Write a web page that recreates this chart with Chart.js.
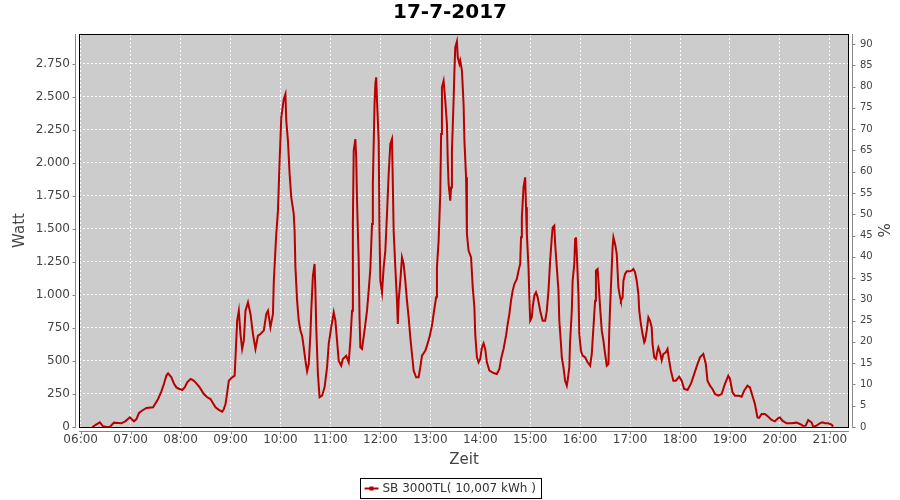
<!DOCTYPE html>
<html>
<head>
<meta charset="utf-8">
<title>17-7-2017</title>
<script src="https://cdn.jsdelivr.net/npm/chart.js@4.4.1/dist/chart.umd.min.js"></script>
<style>
  html, body { margin: 0; padding: 0; background: #fff; }
  #wrap { width: 900px; height: 500px; }
</style>
</head>
<body>
<div id="wrap"><canvas id="powerChart" width="900" height="500"></canvas></div>
<script>
// values
const chartTitle = '17-7-2017';
const seriesLabel = 'SB 3000TL( 10,007 kWh )';

const times = [
  '06:14','06:19','06:23','06:27','06:31','06:35','06:40','06:45','06:49','06:54',
  '06:59','07:04','07:07','07:10','07:14','07:19','07:27','07:33','07:37','07:40',
  '07:43','07:45','07:49','07:52','07:55','07:58','08:02','08:05','08:08','08:12',
  '08:15','08:18','08:23','08:28','08:32','08:36','08:39','08:42','08:46','08:50',
  '08:52','08:54','08:56','08:58','09:02','09:05','09:06','09:08','09:10','09:12',
  '09:14','09:16','09:18','09:21','09:24','09:27','09:30','09:33','09:36','09:40',
  '09:43','09:45','09:48','09:51','09:52','09:54','09:55','09:57','09:59','10:01',
  '10:04','10:06','10:07','10:09','10:11','10:13','10:16','10:17','10:18','10:20',
  '10:22','10:24','10:26','10:28','10:30','10:32','10:34','10:36','10:37','10:39',
  '10:41','10:42','10:43','10:45','10:47','10:50','10:53','10:56','10:58','11:01',
  '11:04','11:06','11:08','11:10','11:13','11:15','11:19','11:22','11:24','11:26',
  '11:27','11:28','11:30','11:31','11:32','11:34','11:35','11:36','11:38','11:41',
  '11:44','11:46','11:48','11:50','11:51','11:53','11:54','11:55','11:56','11:58',
  '11:59','12:00','12:02','12:04','12:06','12:08','12:10','12:12','12:14','12:15',
  '12:16','12:18','12:20','12:21','12:22','12:24','12:26','12:28','12:30','12:32',
  '12:34','12:36','12:38','12:40','12:43','12:46','12:48','12:50','12:54','12:56',
  '12:59','13:02','13:04','13:07','13:08','13:10','13:12','13:13','13:14','13:16',
  '13:18','13:20','13:21','13:22','13:24','13:25','13:26','13:28','13:29','13:30',
  '13:32','13:33','13:35','13:36','13:38','13:40','13:41','13:43','13:44','13:46',
  '13:49','13:51','13:53','13:54','13:56','13:58','14:00','14:02','14:04','14:06',
  '14:08','14:11','14:16','14:20','14:23','14:25','14:28','14:31','14:33','14:35',
  '14:37','14:39','14:41','14:44','14:46','14:48','14:49','14:50','14:52','14:54',
  '14:55','14:56','14:58','14:59','15:00','15:02','15:03','15:05','15:07','15:09',
  '15:12','15:15','15:18','15:20','15:22','15:24','15:26','15:27','15:29','15:30',
  '15:32','15:34','15:35','15:37','15:38','15:40','15:42','15:44','15:45','15:47',
  '15:48','15:50','15:51','15:53','15:54','15:55','15:56','15:58','15:59','16:01',
  '16:03','16:06','16:09','16:12','16:14','16:16','16:18','16:19','16:21','16:22',
  '16:24','16:26','16:28','16:30','16:32','16:34','16:35','16:36','16:38','16:39',
  '16:40','16:42','16:44','16:45','16:46','16:48','16:49','16:51','16:52','16:54',
  '16:56','16:59','17:02','17:04','17:06','17:08','17:10','17:11','17:13','17:15',
  '17:17','17:18','17:20','17:22','17:24','17:26','17:27','17:29','17:31','17:33',
  '17:34','17:36','17:38','17:40','17:43','17:45','17:47','17:49','17:52','17:55',
  '17:59','18:02','18:05','18:09','18:13','18:17','18:21','18:24','18:28','18:31',
  '18:33','18:36','18:39','18:42','18:46','18:50','18:54','18:58','19:00','19:03',
  '19:06','19:11','19:14','19:17','19:21','19:24','19:27','19:30','19:33','19:35',
  '19:38','19:42','19:46','19:50','19:54','19:58','20:00','20:03','20:08','20:14',
  '20:20','20:24','20:28','20:31','20:34','20:38','20:40','20:44','20:48','20:51',
  '20:54','20:58','21:02','21:04'
];

const watts = [
  0, 20, 35, 5, 0, 0, 33, 30, 28, 45,
  73, 43, 60, 106, 125, 144, 149, 212, 270, 326,
  390, 406, 376, 330, 300, 290, 280, 300, 338, 364,
  355, 338, 300, 250, 225, 212, 180, 149, 130, 116,
  135, 174, 260, 351, 376, 389, 528, 805, 881, 704,
  591, 654, 881, 944, 856, 704, 591, 692, 704, 730,
  856, 881, 755, 856, 1100, 1348, 1462, 1639, 2017, 2346,
  2485, 2522, 2320, 2169, 1916, 1740, 1613, 1487, 1209, 957,
  805, 730, 692, 603, 502, 422, 477, 704, 881, 1146,
  1235, 1033, 755, 401, 225, 237, 300, 452, 629, 755,
  869, 805, 654, 502, 465, 515, 540, 490, 654, 881,
  1538, 2093, 2181, 2043, 1714, 1260, 831, 603, 591, 730,
  881, 1033, 1200, 1538, 1841, 2434, 2598, 2649, 2472, 2169,
  1487, 1108, 1020, 1209, 1336, 1613, 1916, 2144, 2181, 1841,
  1487, 1209, 957, 780, 957, 1108, 1285, 1235, 1108, 957,
  831, 679, 553, 427, 376, 376, 452, 540, 578, 616,
  679, 768, 856, 982, 1209, 1411, 1765, 2219, 2573, 2623,
  2472, 2295, 2017, 1841, 1714, 1815, 2093, 2472, 2699, 2876,
  2921, 2800, 2750, 2775, 2699, 2447, 2169, 1891, 1462, 1336,
  1285, 1058, 906, 704, 528, 490, 515, 603, 634, 591,
  490, 427, 409, 401, 439, 515, 591, 692, 780, 856,
  957, 1033, 1083, 1121, 1184, 1235, 1437, 1588, 1815, 1891,
  1664, 1462, 1209, 982, 805, 831, 906, 995, 1020, 982,
  881, 805, 805, 881, 1033, 1260, 1437, 1512, 1525, 1386,
  1209, 1033, 805, 629, 528, 452, 350, 313, 351, 452,
  654, 881, 1108, 1235, 1424, 1437, 1310, 1007, 704, 578,
  540, 528, 490, 465, 553, 755, 957, 1184, 1197, 1108,
  906, 730, 654, 553, 465, 477, 730, 906, 1209, 1361,
  1437, 1386, 1310, 1184, 1058, 982, 957, 982, 1108, 1159,
  1179, 1179, 1184, 1197, 1172, 1108, 1007, 881, 780, 704,
  641, 654, 730, 831, 805, 755, 629, 528, 515, 578,
  603, 566, 505, 553, 566, 591, 502, 427, 351, 351,
  381, 351, 288, 280, 326, 401, 477, 528, 553, 477,
  351, 313, 288, 250, 237, 250, 326, 389, 364, 263,
  237, 237, 230, 275, 313, 300, 237, 174, 73, 70,
  98, 98, 78, 53, 43, 68, 73, 48, 28, 28,
  33, 23, 8, 10, 53, 35, 3, 10, 28, 35,
  28, 28, 18, 3
];

// tick labels of the three axes
const timeTicks = ['06:00','07:00','08:00','09:00','10:00','11:00','12:00','13:00',
  '14:00','15:00','16:00','17:00','18:00','19:00','20:00','21:00'];
const wattTicks = [0, 250, 500, 750, 1000, 1250, 1500, 1750, 2000, 2250, 2500, 2750];
const percentTicks = [0, 5, 10, 15, 20, 25, 30, 35, 40, 45, 50, 55, 60, 65, 70, 75, 80, 85, 90];

const wattMax = 2977;     // top of left axis
const percentMax = 92.35; // top of right axis

function toMinutes(t) {
  const [h, m] = t.split(':').map(Number);
  return h * 60 + m;
}

function fmtTime(v) {
  const h = Math.floor(v / 60), m = v % 60;
  return String(h).padStart(2, '0') + ':' + String(m).padStart(2, '0');
}

// German thousands separator: 2750 -> 2.750
function fmtWatt(v) {
  if (v < 1000) return String(v);
  return Math.floor(v / 1000) + '.' + String(v % 1000).padStart(3, '0');
}

const points = times.map((t, i) => ({ x: toMinutes(t), y: watts[i] }));

// grey plot background, black outline, offset grey axis lines with ticks, boxed legend
const plotFrame = {
  id: 'plotFrame',
  beforeDraw(chart) {
    const { ctx, chartArea: a } = chart;
    ctx.save();
    ctx.fillStyle = '#cccccc';
    ctx.fillRect(a.left, a.top, a.right - a.left, a.bottom - a.top);
    ctx.restore();
  },
  afterDraw(chart) {
    const { ctx, chartArea: a, scales } = chart;
    ctx.save();
    ctx.lineWidth = 1;

    ctx.strokeStyle = '#000';
    ctx.strokeRect(a.left + 0.5, a.top + 0.5, a.right - a.left - 1, a.bottom - a.top);

    ctx.strokeStyle = '#888';
    ctx.beginPath();
    // left axis
    const lx = a.left - 3.5;
    ctx.moveTo(lx, a.top); ctx.lineTo(lx, a.bottom + 1);
    scales.y.ticks.forEach(t => {
      const py = Math.round(scales.y.getPixelForValue(t.value)) + 0.5;
      ctx.moveTo(lx - 3, py); ctx.lineTo(lx, py);
    });
    // bottom axis
    const by = a.bottom + 4.5;
    ctx.moveTo(a.left, by); ctx.lineTo(a.right, by);
    scales.x.ticks.forEach(t => {
      const px = Math.round(scales.x.getPixelForValue(t.value)) + 0.5;
      ctx.moveTo(px, by); ctx.lineTo(px, by + 3);
    });
    // right axis
    const rx = a.right + 3.5;
    ctx.moveTo(rx, a.top); ctx.lineTo(rx, a.bottom + 1);
    scales.yPct.ticks.forEach(t => {
      const py = Math.round(scales.yPct.getPixelForValue(t.value)) + 0.5;
      ctx.moveTo(rx, py); ctx.lineTo(rx + 3, py);
    });
    ctx.stroke();

    // legend
    const ds = chart.data.datasets[0];
    ctx.font = '12px "DejaVu Sans"';
    const tw = ctx.measureText(ds.label).width;
    const w = Math.round(tw + 28);
    const x0 = Math.round(chart.width / 2 - w / 2) + 0.5;
    const y0 = 478.5;
    ctx.strokeStyle = '#000';
    ctx.strokeRect(x0, y0, w, 20);
    ctx.strokeStyle = ds.borderColor;
    ctx.lineWidth = 2;
    ctx.beginPath();
    ctx.moveTo(x0 + 4, y0 + 10); ctx.lineTo(x0 + 18, y0 + 10);
    ctx.stroke();
    ctx.fillStyle = ds.borderColor;
    ctx.fillRect(x0 + 9, y0 + 8, 4, 4);
    ctx.fillStyle = '#333';
    ctx.textBaseline = 'middle';
    ctx.textAlign = 'left';
    ctx.fillText(ds.label, x0 + 22, y0 + 10.5);
    ctx.restore();
  }
};

Chart.defaults.font.family = '"DejaVu Sans", sans-serif';
Chart.defaults.color = '#444';

const ctx = document.getElementById('powerChart').getContext('2d');
const powerChart = new Chart(ctx, {
  type: 'line',
  data: {
    datasets: [{
      label: seriesLabel,
      data: points,
      borderColor: '#b80000',
      borderWidth: 2,
      pointRadius: 0,
      tension: 0,
      fill: false,
      yAxisID: 'y'
    }]
  },
  options: {
    responsive: false,
    animation: false,
    events: [],
    layout: { padding: { left: 0, right: 0, top: 0, bottom: 29 } },
    plugins: {
      legend: { display: false },
      tooltip: { enabled: false },
      title: {
        display: true,
        text: chartTitle,
        color: '#000',
        font: { size: 20, weight: 'bold' },
        padding: { top: 1, bottom: 9 }
      }
    },
    scales: {
      x: {
        type: 'linear',
        min: 358,
        max: 1283,
        grid: { color: '#ffffff', drawTicks: false },
        border: { display: false, dash: [2, 2] },
        afterBuildTicks(scale) { scale.ticks = timeTicks.map(t => ({ value: toMinutes(t) })); },
        ticks: {
          padding: 6,
          maxRotation: 0,
          autoSkip: false,
          font: { size: 12 },
          color: '#444',
          callback: v => fmtTime(v)
        },
        title: {
          display: true,
          text: 'Zeit',
          font: { size: 15 },
          color: '#444',
          padding: { top: 0, bottom: 2 }
        },
        afterFit(scale) { scale.height = 44; }
      },
      y: {
        position: 'left',
        min: 0,
        max: wattMax,
        grid: { color: '#ffffff', drawTicks: false },
        border: { display: false, dash: [2, 2] },
        afterBuildTicks(scale) { scale.ticks = wattTicks.map(v => ({ value: v })); },
        ticks: {
          padding: 9,
          autoSkip: false,
          font: { size: 12 },
          color: '#444',
          callback: v => fmtWatt(v)
        },
        title: {
          display: true,
          text: 'Watt',
          font: { size: 15 },
          color: '#444',
          padding: { top: 11, bottom: 0 }
        },
        afterFit(scale) { scale.width = 79; }
      },
      yPct: {
        type: 'linear',
        position: 'right',
        display: true,
        min: 0,
        max: percentMax,
        grid: { display: false, drawTicks: false },
        border: { display: false },
        afterBuildTicks(scale) { scale.ticks = percentTicks.map(v => ({ value: v })); },
        ticks: {
          padding: 11,
          autoSkip: false,
          font: { size: 10 },
          color: '#444'
        },
        title: {
          display: true,
          text: '%',
          font: { size: 15 },
          color: '#444',
          padding: { top: 9, bottom: 0 }
        },
        afterFit(scale) { scale.width = 51; }
      }
    }
  },
  plugins: [plotFrame]
});
</script>
</body>
</html>
